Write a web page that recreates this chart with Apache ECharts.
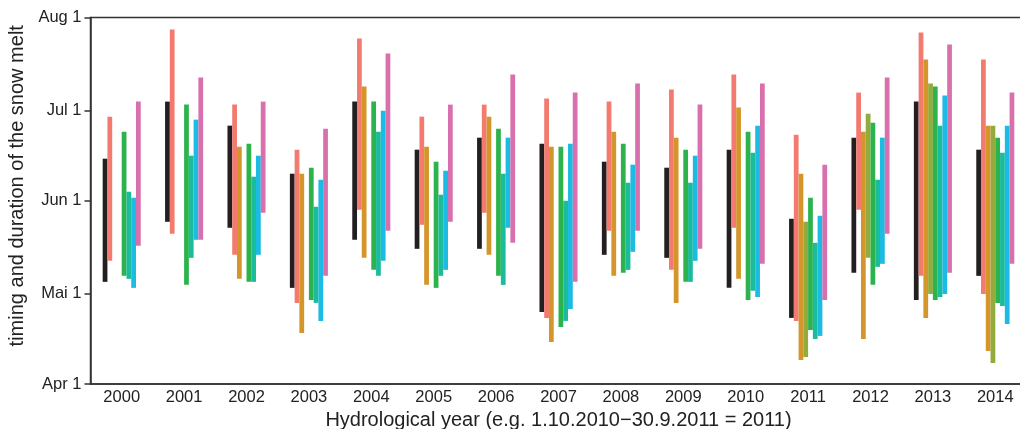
<!DOCTYPE html>
<html>
<head>
<meta charset="utf-8">
<script src="https://cdn.jsdelivr.net/npm/echarts@6/dist/echarts.min.js"></script>
<style>
  html, body { margin: 0; padding: 0; background: #fff; }
  #chart { width: 1020px; height: 429px; }
</style>
</head>
<body>
<div id="chart"></div>
<script>
// hydrological years on the x axis
var years = ['2000','2001','2002','2003','2004','2005','2006','2007','2008','2009','2010','2011','2012','2013','2014'];

// y axis ticks (dates, April 1 = 0)
var tickDates = ['04-01','05-01','06-01','07-01','08-01'];
var tickLabels = ['Apr 1','Mai 1','Jun 1','Jul 1','Aug 1'];

// melt periods [start, end] per series, one entry per year (null = no data)
var meltBlack = [
  ['05-05','06-15'], ['05-25','07-04'], ['05-23','06-26'], ['05-03','06-10'], ['05-19','07-04'],
  ['05-16','06-18'], ['05-16','06-22'], ['04-25','06-20'], ['05-14','06-14'], ['05-13','06-12'],
  ['05-03','06-18'], ['04-23','05-26'], ['05-08','06-22'], ['04-29','07-04'], ['05-07','06-18']
];
var meltSalmon = [
  ['05-12','06-29'], ['05-21','07-28'], ['05-14','07-03'], ['04-28','06-18'], ['05-29','07-25'],
  ['05-24','06-29'], ['05-28','07-03'], ['04-23','07-05'], ['05-22','07-04'], ['05-09','07-08'],
  ['05-23','07-13'], ['04-22','06-23'], ['05-29','07-07'], ['05-07','07-27'], ['05-01','07-18']
];
var meltOrange = [
  null, null, ['05-06','06-19'], ['04-18','06-10'], ['05-13','07-09'],
  ['05-04','06-19'], ['05-14','06-29'], ['04-15','06-19'], ['05-07','06-24'], ['04-28','06-22'],
  ['05-06','07-02'], ['04-09','06-10'], ['04-16','06-24'], ['04-23','07-18'], ['04-12','06-26']
];
var meltOlive = [
  null, null, null, null, null,
  null, null, null, null, null,
  null, ['04-10','05-25'], ['05-13','06-30'], ['05-01','07-10'], ['04-08','06-26']
];
var meltGreen = [
  ['05-07','06-24'], ['05-04','07-03'], ['05-05','06-20'], ['04-29','06-12'], ['05-09','07-04'],
  ['05-03','06-14'], ['05-07','06-25'], ['04-20','06-19'], ['05-08','06-20'], ['05-05','06-18'],
  ['04-29','06-24'], ['04-19','06-02'], ['05-04','06-27'], ['04-29','07-09'], ['04-28','06-22']
];
var meltTeal = [
  ['05-06','06-04'], ['05-13','06-16'], ['05-05','06-09'], ['04-28','05-30'], ['05-07','06-24'],
  ['05-07','06-03'], ['05-04','06-10'], ['04-22','06-01'], ['05-09','06-07'], ['05-05','06-07'],
  ['05-02','06-17'], ['04-16','05-18'], ['05-10','06-08'], ['04-30','06-26'], ['04-27','06-17']
];
var meltBlue = [
  ['05-03','06-02'], ['05-19','06-28'], ['05-14','06-16'], ['04-22','06-08'], ['05-12','07-01'],
  ['05-09','06-11'], ['05-23','06-22'], ['04-26','06-20'], ['05-15','06-13'], ['05-12','06-16'],
  ['04-30','06-26'], ['04-17','05-27'], ['05-11','06-22'], ['05-01','07-06'], ['04-21','06-26']
];
var meltPink = [
  ['05-17','07-04'], ['05-19','07-12'], ['05-28','07-04'], ['05-07','06-25'], ['05-22','07-20'],
  ['05-25','07-03'], ['05-18','07-13'], ['05-05','07-07'], ['05-22','07-10'], ['05-16','07-03'],
  ['05-11','07-10'], ['04-29','06-13'], ['05-21','07-12'], ['05-08','07-23'], ['05-11','07-07']
];

var seriesData = [meltBlack, meltSalmon, meltOrange, meltOlive, meltGreen, meltTeal, meltBlue, meltPink];
var colorList = ['#231f20', '#f37a6f', '#d4952b', '#93ab3c', '#2db34d', '#1bbc9b', '#1cbbe4', '#d970ae'];

// days since April 1
function dayOf(md) {
  var p = md.split('-');
  return (Date.UTC(2001, +p[0] - 1, +p[1]) - Date.UTC(2001, 3, 1)) / 86400000;
}
var tickValues = tickDates.map(dayOf);

var chart = echarts.init(document.getElementById('chart'), null, { renderer: 'canvas' });

var series = [];
seriesData.forEach(function (arr, i) {
  // transparent base up to the start date
  series.push({
    type: 'bar',
    stack: 's' + i,
    silent: true,
    barGap: '0%',
    barCategoryGap: '39%',
    itemStyle: { color: 'rgba(0,0,0,0)' },
    data: arr.map(function (r) { return r ? dayOf(r[0]) : null; })
  });
  // visible melt period
  series.push({
    type: 'bar',
    stack: 's' + i,
    barGap: '0%',
    barCategoryGap: '39%',
    itemStyle: { color: colorList[i] },
    data: arr.map(function (r) { return r ? dayOf(r[1]) - dayOf(r[0]) : null; })
  });
});

var font = 'Liberation Sans, Arial, sans-serif';

chart.setOption({
  animation: false,
  grid: {
    left: 90.5,
    top: 17.5,
    width: 936,
    height: 366.5,
    outerBoundsMode: 'none',
    containLabel: false,
    show: true,
    borderColor: '#333',
    borderWidth: 1.5
  },
  xAxis: {
    type: 'category',
    data: years,
    axisLine: { lineStyle: { color: '#333', width: 1.5 } },
    axisTick: { show: false },
    axisLabel: { color: '#222', fontSize: 16.5, fontFamily: font, margin: 5 },
    name: 'Hydrological year (e.g. 1.10.2010\u221230.9.2011 = 2011)',
    nameLocation: 'middle',
    nameGap: 25,
    nameTextStyle: { color: '#222', fontSize: 20, fontFamily: font }
  },
  yAxis: {
    type: 'value',
    min: 0,
    max: 122,
    splitLine: { show: false },
    axisLine: { show: true, lineStyle: { color: '#333', width: 1.5 } },
    axisTick: { show: true, length: 6, customValues: tickValues, lineStyle: { color: '#333', width: 1.5 } },
    axisLabel: {
      customValues: tickValues,
      color: '#222',
      fontSize: 16.5,
      fontFamily: font,
      margin: 9,
      formatter: function (v) {
        var idx = tickValues.indexOf(v);
        return idx >= 0 ? tickLabels[idx] : '';
      }
    },
    name: 'timing and duration of the snow melt',
    nameLocation: 'middle',
    nameGap: 56,
    nameTextStyle: { color: '#222', fontSize: 20, fontFamily: font, padding: [0, 0, 0, 30] }
  },
  series: series
});
</script>
</body>
</html>
